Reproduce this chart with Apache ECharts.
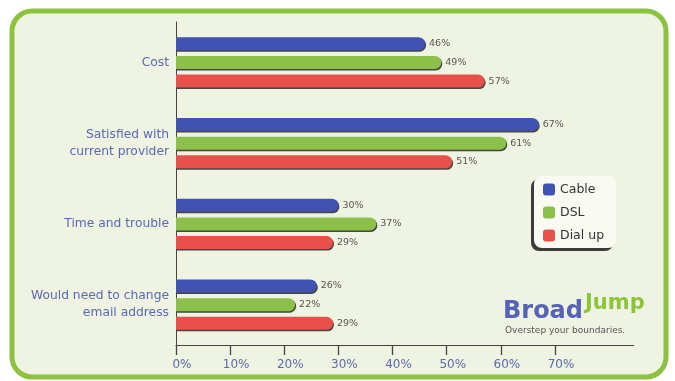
<!DOCTYPE html>
<html>
<head>
<meta charset="utf-8">
<script src="https://cdn.jsdelivr.net/npm/echarts@6/dist/echarts.min.js"></script>
<style>
  html, body { margin: 0; padding: 0; background: #ffffff; }
  #chart { width: 675px; height: 381px; }
</style>
</head>
<body>
<div id="chart"></div>
<script>
// Reasons for staying with the current provider, by connection type (%)
const categories = [
  'Cost',
  'Satisfied with\ncurrent provider',
  'Time and trouble',
  'Would need to change\nemail address'
];
const cable  = [46, 67, 30, 26];
const dsl    = [49, 61, 37, 22];
const dialUp = [57, 51, 29, 29];
const seriesNames = ['Cable', 'DSL', 'Dial up'];
const axisMax = 70;
const axisStep = 10;

const FONT = 'DejaVu Sans';
const colors = ['#4152b3', '#8cc04b', '#e8504b'];

function barSeries(name, data, color) {
  return {
    name: name,
    type: 'bar',
    data: data,
    barWidth: 13,
    barGap: '44%',
    itemStyle: {
      color: color,
      borderRadius: [0, 7, 7, 0],
      shadowColor: 'rgba(40,40,40,0.85)',
      shadowOffsetX: 1,
      shadowOffsetY: 1.5,
      shadowBlur: 0
    },
    label: {
      show: true,
      position: 'right',
      distance: 4,
      formatter: '{c}%',
      fontFamily: FONT,
      fontSize: 9.5,
      color: '#555555'
    }
  };
}

const chart = echarts.init(document.getElementById('chart'));
chart.setOption({
  backgroundColor: '#ffffff',
  animation: false,
  textStyle: { fontFamily: FONT },
  graphic: [
    {
      // rounded panel behind the chart
      type: 'rect',
      z: -10,
      shape: { x: 12, y: 11, width: 654, height: 366, r: 20 },
      style: { fill: '#eff4e2', stroke: '#8cc23f', lineWidth: 5 }
    },
    {
      // the horizontal axis rule runs on past the last tick
      type: 'line',
      z: 5,
      shape: { x1: 555, y1: 345.5, x2: 634, y2: 345.5 },
      style: { stroke: '#444444', lineWidth: 1 }
    },
    {
      type: 'text',
      z: 100,
      style: {
        x: 503, y: 312, text: 'Broad', verticalAlign: 'middle',
        font: 'bold 24px "DejaVu Sans"', fill: '#5562b6'
      }
    },
    {
      type: 'text',
      z: 100,
      style: {
        x: 585, y: 304, text: 'Jump', verticalAlign: 'middle',
        font: 'bold 21px "DejaVu Sans"', fill: '#8cc43c'
      }
    },
    {
      type: 'text',
      z: 100,
      style: {
        x: 505, y: 331, text: 'Overstep your boundaries.', verticalAlign: 'middle',
        font: '9px "DejaVu Sans"', fill: '#555555'
      }
    }
  ],
  legend: {
    data: seriesNames,
    orient: 'vertical',
    left: 534,
    top: 176,
    itemWidth: 12,
    itemHeight: 12,
    itemGap: 10,
    icon: 'roundRect',
    padding: [7, 12, 6, 9],
    backgroundColor: '#f9fbf3',
    borderRadius: 8,
    shadowColor: 'rgba(40,40,40,0.9)',
    shadowOffsetX: -3,
    shadowOffsetY: 3,
    shadowBlur: 0,
    textStyle: { fontFamily: FONT, fontSize: 12.5, color: '#333333' }
  },
  grid: { left: 176, right: 120, top: 22, bottom: 36, containLabel: false },
  xAxis: {
    type: 'value',
    min: 0,
    max: axisMax,
    interval: axisStep,
    splitLine: { show: false },
    axisLine: { show: true, lineStyle: { color: '#444444', width: 1 } },
    axisTick: { show: true, inside: false, length: 10, lineStyle: { color: '#444444', width: 1.3 } },
    axisLabel: {
      formatter: '{value}%',
      margin: 14,
      padding: [0, 0, 0, 12],
      fontFamily: FONT,
      fontSize: 12,
      color: '#5b69ad'
    }
  },
  yAxis: {
    type: 'category',
    data: categories,
    inverse: true,
    axisLine: { show: true, lineStyle: { color: '#444444', width: 1 } },
    axisTick: { show: false },
    axisLabel: {
      margin: 7,
      fontFamily: FONT,
      fontSize: 12.3,
      lineHeight: 17,
      color: '#5b69b5',
      align: 'right'
    }
  },
  series: [
    barSeries(seriesNames[0], cable, colors[0]),
    barSeries(seriesNames[1], dsl, colors[1]),
    barSeries(seriesNames[2], dialUp, colors[2])
  ]
});
</script>
</body>
</html>
